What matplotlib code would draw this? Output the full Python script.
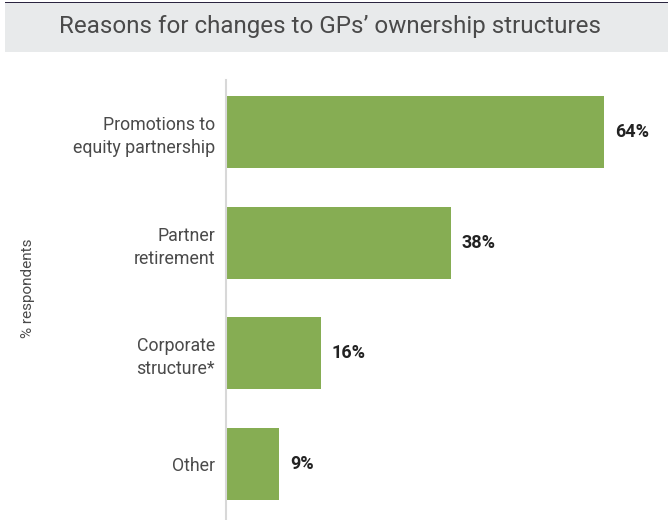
import matplotlib
matplotlib.use("Agg")
import matplotlib.pyplot as plt
from matplotlib.patches import Rectangle
from matplotlib import font_manager

categories = ["Promotions to\nequity partnership", "Partner\nretirement", "Corporate\nstructure*", "Other"]
shares = [64, 38, 16, 9]

GREEN, TEXT, BAND, AXIS = "#86ad53", "#4a4a4a", "#e8eaeb", "#d8d8d8"

names = {f.name for f in font_manager.fontManager.ttflist}
FONT = "Liberation Sans Narrow" if "Liberation Sans Narrow" in names else "Roboto"
plt.rcParams["font.family"] = [FONT, "DejaVu Sans"]

W, H = 668, 520
fig = plt.figure(figsize=(W / 100, H / 100), dpi=100)

# title band
fig.patches.append(Rectangle((5 / W, 1 - 52 / H), 1, 49 / H, transform=fig.transFigure,
                             facecolor=BAND, edgecolor="none"))
fig.patches.append(Rectangle((5 / W, 1 - 3 / H), 1, 1.2 / H, transform=fig.transFigure,
                             facecolor="#2b2540", edgecolor="none"))
fig.text(330 / W, 1 - 27 / H, "Reasons for changes to GPs\u2019 ownership structures",
         ha="center", va="center", fontsize=17.4, color=TEXT)

ax = fig.add_axes([226 / W, 0, (W - 226) / W, 440 / H])
y = list(range(len(categories)))
ax.barh(y, shares, height=0.65, color=GREEN)
ax.set_ylim(3.506, -0.47)
ax.set_xlim(0, 74.8)
for yi, v in zip(y, shares):
    ax.text(v + 1.8, yi, f"{v}%", va="center", ha="left", fontsize=13,
            fontweight="bold", color="#222222")
ax.set_yticks(y)
ax.set_yticklabels(categories, fontsize=12.8, color=TEXT, linespacing=1.35)
ax.tick_params(axis="y", length=0, pad=8)
ax.set_xticks([])
for s in ["top", "right", "bottom"]:
    ax.spines[s].set_visible(False)
ax.spines["left"].set_color(AXIS)
ax.spines["left"].set_linewidth(1.5)

fig.text(28 / W, 1 - 288 / H, "% respondents", rotation=90, ha="center", va="center",
         fontsize=11, color=TEXT)

fig.savefig("out.png", dpi=100)
